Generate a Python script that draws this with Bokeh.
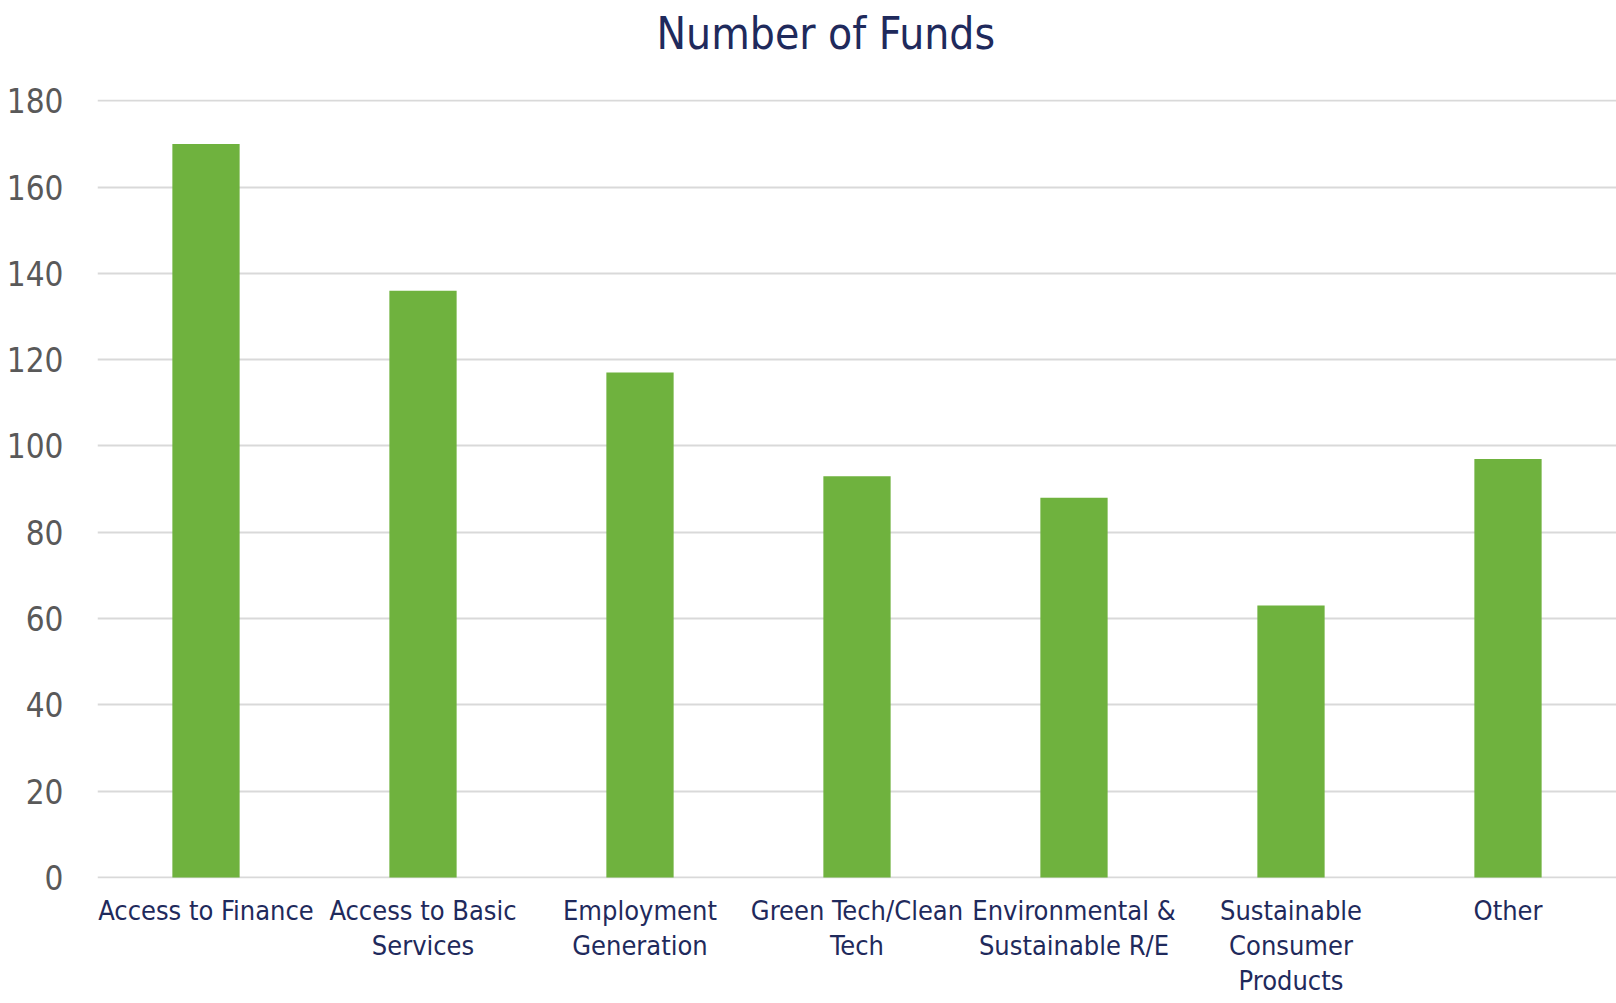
from bokeh.plotting import figure
from bokeh.models import FactorRange, Range1d, SingleIntervalTicker, ColumnDataSource, Title
from bokeh.embed import file_html
from bokeh.resources import INLINE

tick_labels = ["Access to Finance", "Access to Basic\nServices", "Employment\nGeneration",
               "Green Tech/Clean\nTech", "Environmental &\nSustainable R/E",
               "Sustainable\nConsumer\nProducts", "Other"]
funds = [170, 136, 117, 93, 88, 63, 97]
title_text = "Number of Funds"

NAVY = "#1F2A5C"
FONT = "DejaVu Sans Condensed"

src = ColumnDataSource(dict(cat=tick_labels, val=funds))

p = figure(width=1616, height=1003, output_backend="svg", toolbar_location=None,
           x_range=FactorRange(factors=tick_labels, range_padding=0),
           y_range=Range1d(-0.25, 180.3),
           min_border_left=97, min_border_right=0, min_border_top=99,
           min_border_bottom=125)

p.vbar(x="cat", top="val", bottom=0, width=0.31, source=src,
       fill_color="#6FB23E", line_color=None)

# spacer between title and plot frame (closest to frame)
p.add_layout(Title(text=" ", text_font_size="1px", standoff=38), "above")
# main title
p.add_layout(Title(text=title_text, text_font=FONT, text_font_size="44px",
                   text_font_style="normal", text_color=NAVY, align="left",
                   offset=559, standoff=0), "above")

p.outline_line_color = None
p.xgrid.grid_line_color = None
p.ygrid.grid_line_color = "#D9D9D9"
p.ygrid.grid_line_width = 2

p.yaxis.ticker = SingleIntervalTicker(interval=20)
p.yaxis.axis_line_color = None
p.yaxis.major_tick_line_color = None
p.yaxis.major_tick_out = 0
p.yaxis.major_tick_in = 0
p.yaxis.minor_tick_line_color = None
p.yaxis.major_label_text_font = FONT
p.yaxis.major_label_text_font_size = "33px"
p.yaxis.major_label_text_color = "#595959"
p.yaxis.major_label_standoff = 30

p.xaxis.axis_line_color = None
p.xaxis.major_tick_line_color = None
p.xaxis.major_tick_out = 0
p.xaxis.major_tick_in = 0
p.xaxis.minor_tick_line_color = None
p.xaxis.major_label_text_font = FONT
p.xaxis.major_label_text_font_size = "27px"
p.xaxis.major_label_text_color = NAVY
p.xaxis.major_label_text_line_height = 1.145
p.xaxis.major_label_standoff = 16

open("out.html", "w").write(file_html(p, INLINE))
